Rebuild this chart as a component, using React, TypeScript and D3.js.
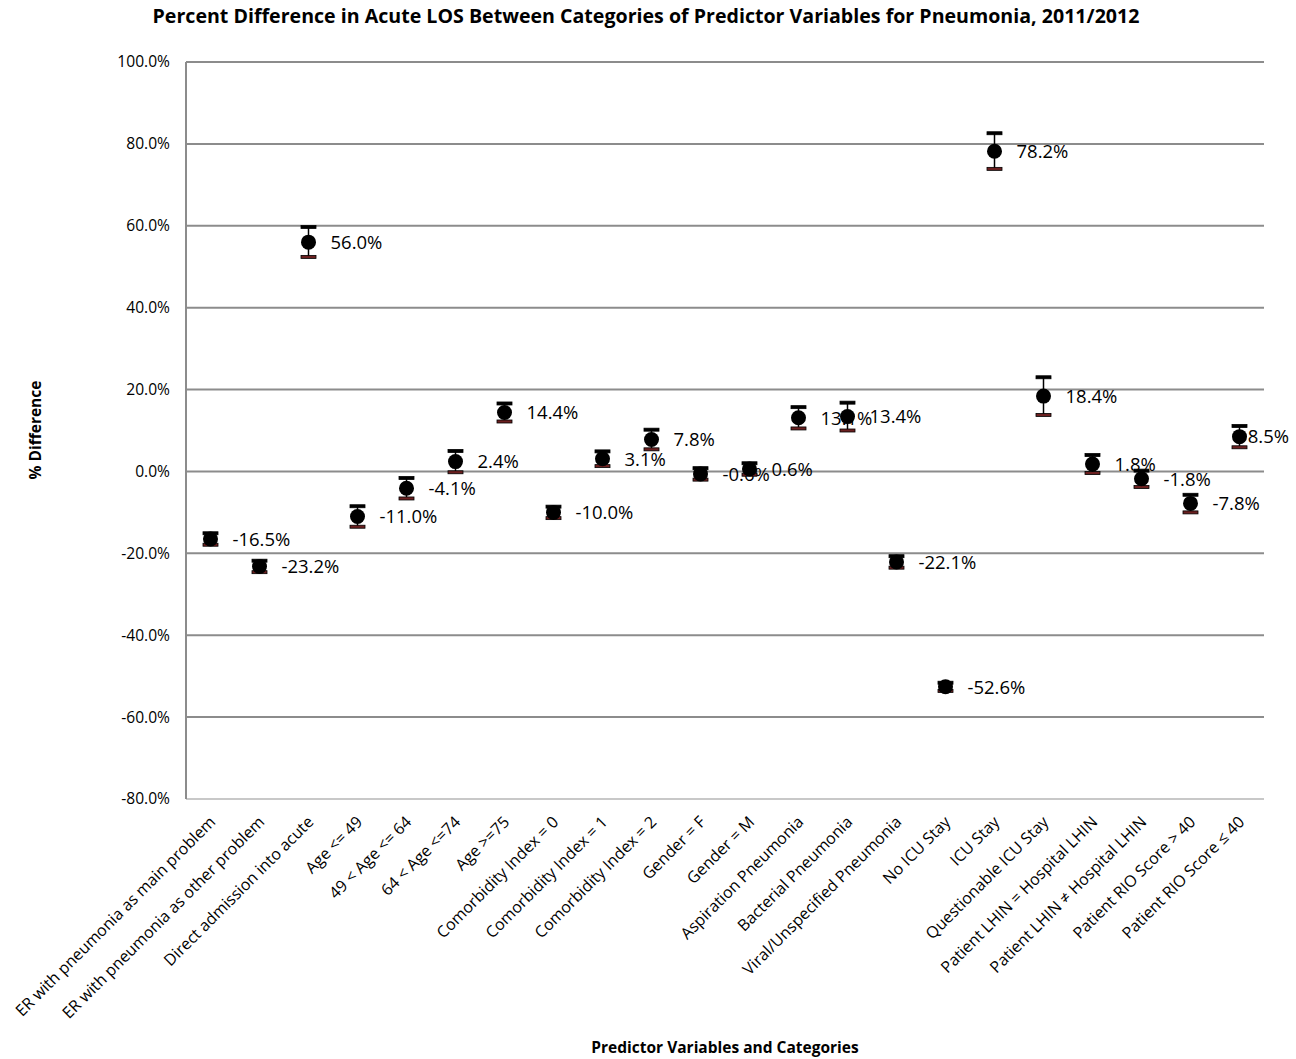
import React from "react";
import * as d3 from "d3";

const categories = [
  "ER with pneumonia as main problem",
  "ER with pneumonia as other problem",
  "Direct admission into acute",
  "Age <= 49",
  "49 < Age <= 64",
  "64 < Age <=74",
  "Age >=75",
  "Comorbidity Index = 0",
  "Comorbidity Index = 1",
  "Comorbidity Index = 2",
  "Gender = F",
  "Gender = M",
  "Aspiration Pneumonia",
  "Bacterial Pneumonia",
  "Viral/Unspecified Pneumonia",
  "No ICU Stay",
  "ICU Stay",
  "Questionable ICU Stay",
  "Patient LHIN = Hospital LHIN",
  "Patient LHIN \u2260 Hospital LHIN",
  "Patient RIO Score > 40",
  "Patient RIO Score \u2264 40",
];
const values = [-16.5, -23.2, 56.0, -11.0, -4.1, 2.4, 14.4, -10.0, 3.1, 7.8, -0.6, 0.6, 13.1, 13.4, -22.1, -52.6, 78.2, 18.4, 1.8, -1.8, -7.8, 8.5];
const upperErr = [1.4, 1.4, 3.7, 2.5, 2.5, 2.6, 2.2, 1.4, 1.8, 2.4, 1.4, 1.4, 2.6, 3.4, 1.4, 1.0, 4.4, 4.6, 2.2, 2.0, 2.1, 2.6];
const lowerErr = [1.4, 1.4, 3.6, 2.5, 2.5, 2.6, 2.2, 1.4, 1.8, 2.4, 1.4, 1.4, 2.6, 3.4, 1.4, 1.0, 4.3, 4.6, 2.2, 2.0, 2.2, 2.6];
const yTicks = [-80, -60, -40, -20, 0, 20, 40, 60, 80, 100];

const W = 1296;
const H = 1059;
const L = 186, R = 1264, T = 62, B = 799;
const FONT = "'Open Sans', 'DejaVu Sans', sans-serif";
const LABEL_SIZE = 18.5;

function estWidth(s: string, size: number) {
  let w = 0;
  for (const ch of s) {
    if (ch >= "0" && ch <= "9") w += 0.572;
    else if (ch === ".") w += 0.266;
    else if (ch === "%") w += 0.823;
    else if (ch === "-") w += 0.322;
    else w += 0.55;
  }
  return w * size;
}

export default function App() {
  const x = d3.scaleBand<string>().domain(categories).range([L, R]);
  const y = d3.scaleLinear().domain([-80, 100]).range([B, T]);
  const cx = (i: number) => (x(categories[i]) as number) + x.bandwidth() / 2;
  const capW = 15;

  return (
    <div style={{ position: "absolute", left: 0, top: 0 }}>
      <svg width={W} height={H} style={{ display: "block", background: "#fff" }}>
        <text x={646} y={23} textAnchor="middle" fontFamily={FONT} fontWeight="bold" fontSize={19.6} fill="#000">
          Percent Difference in Acute LOS Between Categories of Predictor Variables for Pneumonia,  2011/2012
        </text>
        {yTicks.map((t) => (
          <g key={t}>
            <line x1={L} x2={R} y1={y(t)} y2={y(t)} stroke={t === -80 ? "#c8c8c8" : "#8c8c8c"} strokeWidth={2} />
            <text x={170} y={y(t)} dy="0.35em" textAnchor="end" fontFamily={FONT} fontSize={15.6} fill="#000">
              {t.toFixed(1) + "%"}
            </text>
          </g>
        ))}
        <line x1={L} x2={L} y1={T} y2={B} stroke="#8c8c8c" strokeWidth={2} />
        <text transform={`translate(41,${430}) rotate(-90)`} textAnchor="middle" fontFamily={FONT} fontWeight="bold" fontSize={15.5} fill="#000">
          % Difference
        </text>
        {categories.map((c, i) => (
          <text key={c} transform={`translate(${cx(i) + 6},${B + 24}) rotate(-45)`} textAnchor="end" fontFamily={FONT} fontSize={16} fill="#000">
            {c}
          </text>
        ))}
        <text x={(L + R) / 2} y={1053} textAnchor="middle" fontFamily={FONT} fontWeight="bold" fontSize={15.5} fill="#000">
          Predictor Variables and Categories
        </text>
        {values.map((v, i) => {
          const lbl = v.toFixed(1) + "%";
          const w = estWidth(lbl, LABEL_SIZE);
          let lx = cx(i) + 22;
          if (lx + w > 1289) lx = 1289 - w;
          return (
            <text key={"l" + i} x={lx} y={y(v)} dy="0.37em" fontFamily={FONT} fontSize={LABEL_SIZE} fill="#000">
              {lbl}
            </text>
          );
        })}
        {values.map((v, i) => {
          const px = cx(i);
          const yt = y(v + upperErr[i]);
          const yb = y(v - lowerErr[i]);
          return (
            <g key={"m" + i}>
              <line x1={px} x2={px} y1={yt} y2={yb} stroke="#000" strokeWidth={1.5} />
              <rect x={px - capW / 2} y={yt - 1.5} width={capW} height={3} fill="#000" stroke="#000" strokeWidth={0.8} />
              <rect x={px - capW / 2} y={yb - 1.5} width={capW} height={3} fill="#6b2020" stroke="#000" strokeWidth={0.8} />
              <circle cx={px} cy={y(v)} r={7.5} fill="#000" />
            </g>
          );
        })}
      </svg>
    </div>
  );
}
